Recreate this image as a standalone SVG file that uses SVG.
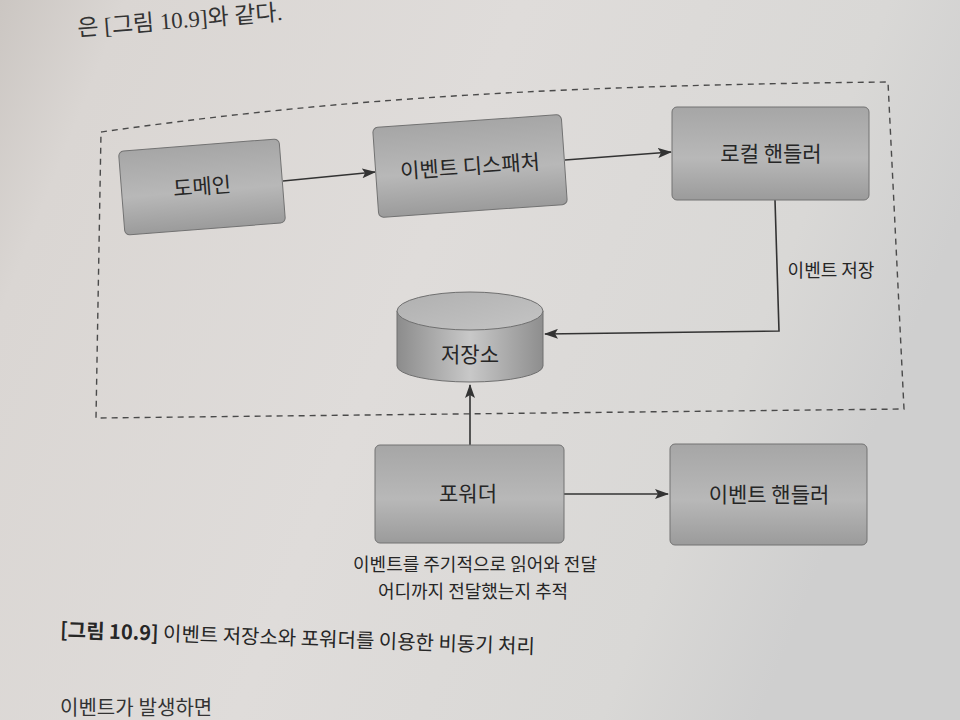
<svg xmlns="http://www.w3.org/2000/svg" width="960" height="720" viewBox="0 0 960 720">
<defs>
<linearGradient id="bg" x1="0" y1="0" x2="1" y2="0.3">
<stop offset="0" stop-color="#cbc6c2"/>
<stop offset="0.12" stop-color="#dad6d3"/>
<stop offset="0.5" stop-color="#dfdcda"/>
<stop offset="0.85" stop-color="#d9d8d6"/>
<stop offset="1" stop-color="#cfcfcf"/>
</linearGradient>
<linearGradient id="node" x1="0" y1="0" x2="0" y2="1">
<stop offset="0" stop-color="#a6a6a6"/>
<stop offset="0.55" stop-color="#b8b8b8"/>
<stop offset="1" stop-color="#9b9b9b"/>
</linearGradient>
<linearGradient id="cylside" x1="0" y1="0" x2="1" y2="0">
<stop offset="0" stop-color="#8c8c8c"/>
<stop offset="0.5" stop-color="#c8c8c8"/>
<stop offset="1" stop-color="#8e8e8e"/>
</linearGradient>
<linearGradient id="cyltop" x1="0" y1="0" x2="1" y2="1">
<stop offset="0" stop-color="#b0b0b0"/>
<stop offset="1" stop-color="#c4c4c4"/>
</linearGradient>
<marker id="arrow" viewBox="0 0 14 10" refX="13" refY="5" markerWidth="14" markerHeight="10" markerUnits="userSpaceOnUse" orient="auto">
<path d="M0,0 L14,5 L0,10 L3,5 Z" fill="#333"/>
</marker>
<style>
.box{fill:url(#node);stroke:#727272;stroke-width:1}
.lbl{font-family:"Noto Sans CJK KR","Noto Sans",sans-serif;font-size:21px;fill:#262626;text-anchor:middle}
.small{font-family:"Noto Sans CJK KR","Noto Sans",sans-serif;font-size:18px;fill:#262626;text-anchor:middle}
.conn{fill:none;stroke:#333;stroke-width:1.6}
.page{font-family:"Liberation Serif","Noto Sans CJK KR",serif;fill:#333}
.cap{font-family:"Noto Sans CJK KR","Noto Sans",sans-serif;font-size:20px;fill:#262626}
</style>
</defs>
<rect x="0" y="0" width="960" height="720" fill="url(#bg)"/>
<text class="page" x="78" y="36" font-size="23" transform="rotate(-4.5 78 36)">은 [그림 10.9]와 같다.</text>

<path id="boundary" d="M101,132 C300,104 500,86 888,82 L904,409 L96,418 Z" fill="none" stroke="#4a4a4a" stroke-width="1.4" stroke-dasharray="6 5"/>

<g id="connectors">
<line class="conn" x1="283" y1="181" x2="375" y2="172" marker-end="url(#arrow)"/>
<line class="conn" x1="565" y1="160" x2="671" y2="152" marker-end="url(#arrow)"/>
<polyline class="conn" points="775,200 779,331 545,334" marker-end="url(#arrow)"/>
<line class="conn" x1="470" y1="445" x2="470" y2="385" marker-end="url(#arrow)"/>
<line class="conn" x1="564" y1="494" x2="668" y2="494" marker-end="url(#arrow)"/>
<text class="small" x="831" y="277">이벤트 저장</text>
</g>

<g id="domain" transform="rotate(-4.5 202 187)">
<rect class="box" x="121.5" y="145" width="161" height="84" rx="5"/>
<text class="lbl" x="202" y="194">도메인</text>
</g>
<g id="dispatcher" transform="rotate(-4 470 166)">
<rect class="box" x="375.5" y="121" width="189" height="90" rx="5"/>
<text class="lbl" x="470" y="174">이벤트 디스패처</text>
</g>
<g id="local-handler">
<rect class="box" x="672" y="107" width="197" height="93" rx="5"/>
<text class="lbl" x="771" y="161">로컬 핸들러</text>
</g>
<g id="storage">
<path d="M397,311 V366 A73,16 0 0 0 543,366 V311 Z" fill="url(#cylside)" stroke="#6f6f6f" stroke-width="1"/>
<ellipse cx="470" cy="311" rx="73" ry="19" fill="url(#cyltop)" stroke="#6f6f6f" stroke-width="1"/>
<text class="lbl" x="470" y="362">저장소</text>
</g>
<g id="forwarder">
<rect class="box" x="375" y="445" width="189" height="98" rx="5"/>
<text class="lbl" x="468" y="501">포워더</text>
</g>
<g id="event-handler">
<rect class="box" x="670" y="444" width="197" height="101" rx="5"/>
<text class="lbl" x="769" y="502">이벤트 핸들러</text>
</g>

<g id="notes">
<text class="small" x="475" y="571">이벤트를 주기적으로 읽어와 전달</text>
<text class="small" x="473" y="598">어디까지 전달했는지 추적</text>
</g>
<text class="cap" x="60" y="637" transform="rotate(2 60 637)"><tspan font-weight="bold">[그림 10.9]</tspan> 이벤트 저장소와 포워더를 이용한 비동기 처리</text>
<text class="page" x="60" y="715" font-size="20">이벤트가 발생하면</text>
</svg>
